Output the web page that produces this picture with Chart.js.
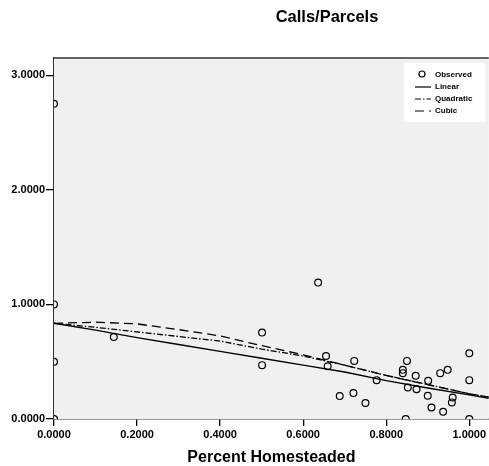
<!DOCTYPE html>
<html>
<head>
<meta charset="utf-8">
<script src="https://cdn.jsdelivr.net/npm/chart.js@4/dist/chart.umd.min.js"></script>
<style>
  html, body { margin: 0; padding: 0; background: #fff; overflow: hidden; }
  canvas { display: block; }
</style>
</head>
<body>
<canvas id="chart" width="494" height="466"></canvas>
<script>
// observed points (Percent Homesteaded, Calls/Parcels)
const obsX = [0, 0, 0, 0, 0.144, 0.501, 0.501, 0.636, 0.655, 0.659, 0.688, 0.721, 0.723, 0.750, 0.777,
  0.840, 0.850, 0.840, 0.871, 0.852, 0.873, 0.847, 0.901, 0.900, 0.909, 0.930, 0.948, 0.958, 0.960, 0.937,
  1.0, 1.0, 1.0];
const obsY = [2.75, 1.0, 0.5, 0.0, 0.716, 0.754, 0.47, 1.19, 0.55, 0.46, 0.20, 0.226, 0.507, 0.139, 0.339,
  0.429, 0.507, 0.40, 0.377, 0.275, 0.26, 0.0, 0.333, 0.203, 0.10, 0.40, 0.429, 0.145, 0.188, 0.063,
  0.574, 0.339, 0.0];

// fitted curves
const fitX = [0, 0.1, 0.2, 0.3, 0.4, 0.5, 0.6, 0.7, 0.8, 0.9, 1.0, 1.047];
const linearY = [0.835, 0.775, 0.71, 0.65, 0.59, 0.53, 0.47, 0.41, 0.335, 0.27, 0.21, 0.18];
const quadY = [0.835, 0.80, 0.76, 0.72, 0.68, 0.61, 0.55, 0.47, 0.38, 0.30, 0.22, 0.19];
const cubicY = [0.835, 0.845, 0.83, 0.78, 0.725, 0.64, 0.56, 0.47, 0.38, 0.30, 0.22, 0.19];

const xTicks = [0, 0.2, 0.4, 0.6, 0.8, 1.0];
const yTicks = [0, 1, 2, 3];
const chartTitle = 'Calls/Parcels';
const xTitle = 'Percent Homesteaded';

const FONT = '"Liberation Sans", Arial, sans-serif';

const toPts = (xs, ys) => xs.map((x, i) => ({ x, y: ys[i] }));

const frame = {
  id: 'frame',
  beforeDatasetsDraw(chart) {
    const { ctx, chartArea: a } = chart;
    ctx.save();
    ctx.fillStyle = '#f0f0f0';
    ctx.fillRect(a.left, a.top, a.right - a.left, a.bottom - a.top);
    ctx.strokeStyle = '#333';
    ctx.lineWidth = 1.5;
    ctx.beginPath();
    ctx.moveTo(a.left, a.top);
    ctx.lineTo(a.right, a.top);
    ctx.stroke();
    ctx.restore();
  },
  afterDraw(chart) {
    const { ctx } = chart;
    ctx.save();
    // chart title
    ctx.fillStyle = '#000';
    ctx.font = 'bold 16.5px ' + FONT;
    ctx.textAlign = 'center';
    ctx.textBaseline = 'middle';
    ctx.fillText(chartTitle, 327, 17);

    // legend box
    const lx = 404, ly = 63;
    ctx.fillStyle = '#fff';
    ctx.fillRect(lx, ly, 81, 59);
    ctx.font = 'bold 8px ' + FONT;
    ctx.textAlign = 'left';
    chart.data.datasets.forEach((ds, i) => {
      const y = ly + 12 + i * 12;
      ctx.strokeStyle = '#000';
      ctx.lineWidth = 1.2;
      if (ds.showLine) {
        ctx.setLineDash(ds.borderDash || []);
        ctx.beginPath();
        ctx.moveTo(lx + 11, y);
        ctx.lineTo(lx + 27, y);
        ctx.stroke();
        ctx.setLineDash([]);
      } else {
        ctx.beginPath();
        ctx.arc(lx + 18, y - 1, 3, 0, Math.PI * 2);
        ctx.stroke();
      }
      ctx.fillStyle = '#000';
      ctx.fillText(ds.label, lx + 31, y);
    });
    ctx.restore();
  }
};

new Chart(document.getElementById('chart'), {
  type: 'scatter',
  data: {
    datasets: [
      {
        label: 'Observed',
        data: toPts(obsX, obsY),
        pointRadius: 3.4,
        pointBorderWidth: 1.2,
        borderColor: '#000',
        backgroundColor: 'rgba(0,0,0,0)',
        clip: 0
      },
      {
        label: 'Linear',
        data: toPts(fitX, linearY),
        showLine: true,
        pointRadius: 0,
        borderColor: '#000',
        borderWidth: 1.4
      },
      {
        label: 'Quadratic',
        data: toPts(fitX, quadY),
        showLine: true,
        pointRadius: 0,
        borderColor: '#000',
        borderWidth: 1.3,
        borderDash: [6, 2, 1.5, 2]
      },
      {
        label: 'Cubic',
        data: toPts(fitX, cubicY),
        showLine: true,
        pointRadius: 0,
        borderColor: '#000',
        borderWidth: 1.3,
        borderDash: [9, 5]
      }
    ]
  },
  options: {
    responsive: false,
    animation: false,
    devicePixelRatio: 1,
    layout: { padding: { top: 58, right: 0, left: 0, bottom: 0 } },
    plugins: { legend: { display: false }, tooltip: { enabled: false } },
    scales: {
      x: {
        type: 'linear',
        min: 0,
        max: 1.047,
        afterBuildTicks: (s) => { s.ticks = xTicks.map((v) => ({ value: v })); },
        afterFit: (s) => { s.height = 47; s.paddingRight = 0; s.paddingLeft = 0; },
        grid: { drawOnChartArea: false, drawTicks: true, tickLength: 7, color: '#000', lineWidth: 1.3 },
        border: { display: true, color: '#333', width: 1.5 },
        ticks: {
          color: '#000',
          padding: 2,
          maxRotation: 0,
          font: { family: FONT, size: 11, weight: 'bold' },
          callback: (v) => Number(v).toFixed(4)
        },
        title: {
          display: true,
          text: xTitle,
          color: '#000',
          padding: { top: 0, bottom: 0 },
          font: { family: FONT, size: 16, weight: 'bold', lineHeight: 1 }
        }
      },
      y: {
        type: 'linear',
        min: 0,
        max: 3.15,
        afterBuildTicks: (s) => { s.ticks = yTicks.map((v) => ({ value: v })); },
        afterFit: (s) => { s.width = 54; s.paddingTop = 0; s.paddingBottom = 0; },
        grid: { drawOnChartArea: false, drawTicks: true, tickLength: 8, color: '#000', lineWidth: 1.3 },
        border: { display: true, color: '#333', width: 1.5 },
        ticks: {
          color: '#000',
          padding: 1,
          font: { family: FONT, size: 11, weight: 'bold' },
          callback: (v) => Number(v).toFixed(4)
        }
      }
    }
  },
  plugins: [frame]
});
</script>
</body>
</html>
